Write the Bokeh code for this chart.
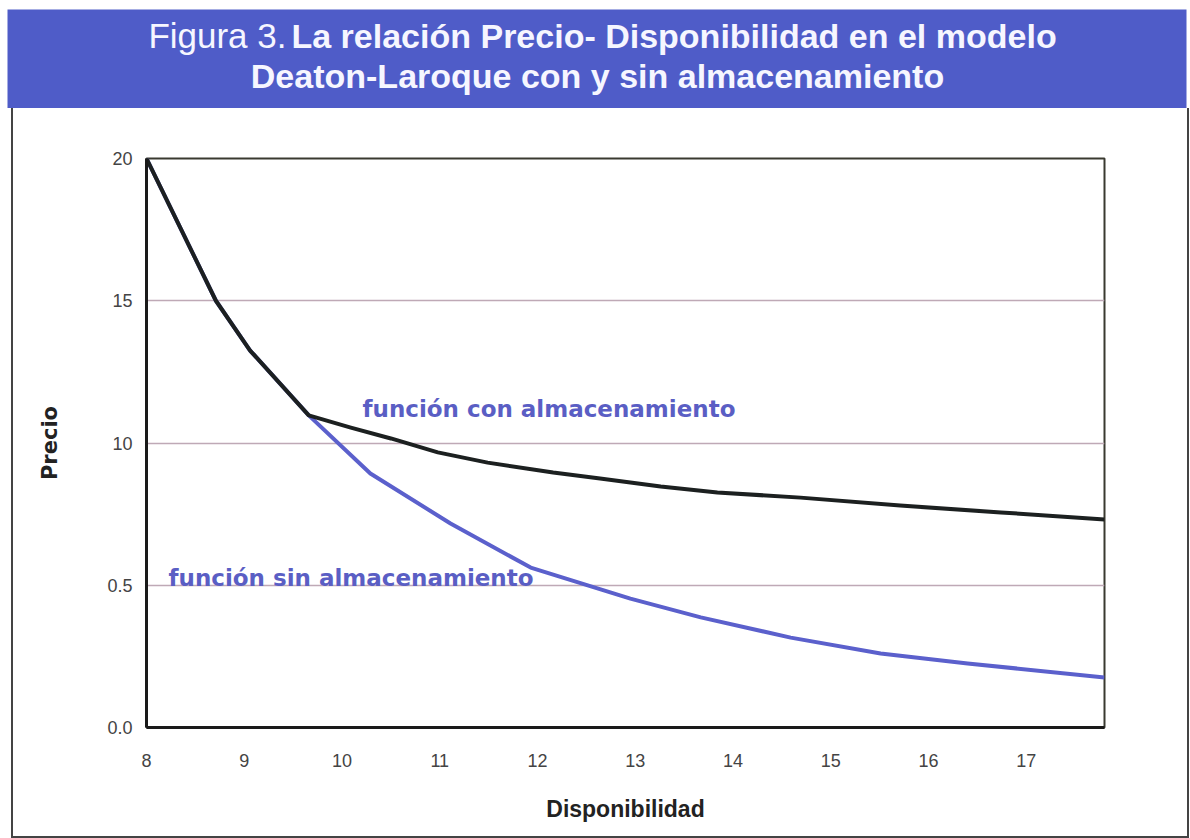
from bokeh.plotting import figure
from bokeh.layouts import column
from bokeh.models import Range1d, FixedTicker
from bokeh.core.properties import value
from bokeh.embed import file_html
from bokeh.resources import INLINE

# ---------------- data ----------------
x_con = [8.0, 8.71, 9.06, 9.66, 10.09, 10.5, 10.98, 11.49, 12.16, 12.64, 13.26, 13.84, 14.69, 15.71, 16.74, 17.8]
y_con = [2.0, 1.50, 1.325, 1.097, 1.054, 1.016, 0.967, 0.931, 0.896, 0.875, 0.847, 0.826, 0.808, 0.780, 0.756, 0.731]

x_sin = [8.0, 8.71, 9.06, 9.66, 10.29, 11.11, 11.93, 12.95, 13.67, 14.59, 15.51, 16.40, 17.8]
y_sin = [2.0, 1.50, 1.325, 1.097, 0.893, 0.717, 0.562, 0.453, 0.387, 0.316, 0.260, 0.225, 0.176]

x_ticks = [8, 9, 10, 11, 12, 13, 14, 15, 16, 17]
y_ticks = [0.0, 0.5, 1.0, 1.5, 2.0]
y_tick_labels = ["0.0", "0.5", "10", "15", "20"]

title_normal = "Figura 3."
title_bold_1 = "La relación Precio- Disponibilidad en el modelo"
title_bold_2 = "Deaton-Laroque con y sin almacenamiento"
label_con = "función con almacenamiento"
label_sin = "función sin almacenamiento"

BLUE = "#4f5cc8"
LINE_BLUE = "#5b60cc"
TEXT_BLUE = "#5a5ec4"
W = 1190

# ---------------- banner ----------------
banner = figure(width=W, height=108, x_range=Range1d(7, 1186), y_range=Range1d(108, 9),
                x_axis_type=None, y_axis_type=None, toolbar_location=None,
                output_backend="svg", min_border_left=7, min_border_right=4,
                min_border_top=9, min_border_bottom=0)
banner.frame_align = False
banner.grid.visible = False
banner.background_fill_color = BLUE
banner.border_fill_color = "white"
banner.outline_line_color = None
banner.text(x=[286], y=[35], text=[title_normal], text_font=value("Liberation Sans"),
            text_font_size="35px", text_color="#f6f6ff", text_align="right",
            text_baseline="middle")
banner.text(x=[291], y=[35], text=[title_bold_1], text_font=value("Liberation Sans"),
            text_font_size="34px", text_font_style="bold", text_color="#f6f6ff",
            text_align="left", text_baseline="middle")
banner.text(x=[597], y=[75], text=[title_bold_2], text_font=value("Liberation Sans"),
            text_font_size="34px", text_font_style="bold", text_color="#f6f6ff",
            text_align="center", text_baseline="middle")

# ---------------- main chart ----------------
p = figure(width=1178, height=730, x_range=Range1d(8, 17.8), y_range=Range1d(0, 2),
           toolbar_location=None, output_backend="svg",
           min_border_left=133, min_border_right=87, min_border_top=50, min_border_bottom=111)
p.frame_align = False
p.margin = (0, 0, 0, 11)
p.styles = {"border-left": "2px solid #444", "border-bottom": "2px solid #444",
            "border-right": "2px solid #444", "box-sizing": "border-box"}

p.xgrid.visible = False
p.ygrid.ticker = FixedTicker(ticks=[0.5, 1.0, 1.5])
p.ygrid.grid_line_color = "#bfa9b6"
p.ygrid.grid_line_width = 1.3

p.outline_line_color = "#3a3a30"
p.outline_line_width = 2

p.xaxis.ticker = FixedTicker(ticks=x_ticks)
p.yaxis.ticker = FixedTicker(ticks=y_ticks)
p.yaxis.major_label_overrides = {t: l for t, l in zip(y_ticks, y_tick_labels)}

for ax in (p.xaxis, p.yaxis):
    ax.axis_line_color = "#1a1a1a"
    ax.axis_line_width = 3
    ax.major_tick_line_color = None
    ax.minor_tick_line_color = None
    ax.major_tick_out = 0
    ax.major_tick_in = 0
    ax.major_label_text_font = "Liberation Sans"
    ax.major_label_text_font_size = "18px"
    ax.major_label_text_color = "#444444"
    ax.axis_label_text_font_style = "bold"
    ax.axis_label_text_color = "#222222"

p.xaxis.axis_label_text_font = "Liberation Sans"
p.xaxis.axis_label_text_font_size = "23px"
p.yaxis.axis_label_text_font = "DejaVu Sans"
p.yaxis.axis_label_text_font_size = "21px"

p.xaxis.major_label_standoff = 26
p.yaxis.major_label_standoff = 14
p.xaxis.axis_label = "Disponibilidad"
p.yaxis.axis_label = "Precio"
p.xaxis.axis_label_standoff = 26
p.yaxis.axis_label_standoff = 42

p.line(x_sin, y_sin, line_color=LINE_BLUE, line_width=4, line_join="round")
p.line(x_con, y_con, line_color="#1c2020", line_width=4, line_join="round")

p.text(x=[10.21], y=[1.121], text=[label_con], text_font=value("DejaVu Sans"),
       text_font_style="bold", text_font_size="23px", text_color=TEXT_BLUE,
       text_baseline="middle", text_align="left")
p.text(x=[8.225], y=[0.527], text=[label_sin], text_font=value("DejaVu Sans"),
       text_font_style="bold", text_font_size="23px", text_color=TEXT_BLUE,
       text_baseline="middle", text_align="left")

layout = column(banner, p, spacing=0)
open("out.html", "w").write(file_html(layout, INLINE))
